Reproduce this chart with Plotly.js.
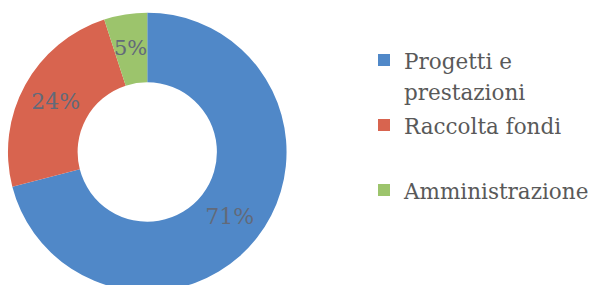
<!DOCTYPE html>
<html><head><meta charset="utf-8">
<script src="https://cdn.plot.ly/plotly-3.0.1.min.js"></script>
<style>html,body{margin:0;padding:0;overflow:hidden;background:#fff;width:595px;height:285px}#c{width:595px;height:300px}</style>
</head><body><div id="c"></div>
<script>
const labelLines = [["Progetti e", "prestazioni"], ["Raccolta fondi", " "], ["Amministrazione", " "]];
const values = [71, 24, 5];
const colors = ["#5088c8", "#d8644f", "#9cc46c"];

const span = s => "<span style='font-size:21.5px'>" + s + "</span>";
const labels = labelLines.map(l => l.map(span).join("<br>"));
const total = values.reduce((a, b) => a + b, 0);
const pct = values.map(v => Math.round(v / total * 100) + "%");

// pie geometry (pixels in a 595x300 layout)
const W = 595, H = 300, cxPx = 148, cyPx = 152, rOut = 140, hole = 0.5;
const domX = [(cxPx - rOut) / W, (cxPx + rOut) / W];
const domY = [(H - cyPx - rOut) / H, (H - cyPx + rOut) / H];

// the thin last slice gets its label at the middle of its ring, computed from the data
const annotations = [];
let cum = 0;
values.forEach((v, i) => {
  const mid = (cum + v / 2) / total * 2 * Math.PI;
  cum += v;
  if (i === values.length - 1) {
    const rMid = rOut * (1 + hole) / 2;
    annotations.push({
      xref: "paper", yref: "paper", showarrow: false,
      xanchor: "center", yanchor: "middle",
      x: (cxPx + rMid * Math.sin(mid)) / W,
      y: (H - cyPx + rMid * Math.cos(mid)) / H,
      text: pct[i], font: {family: "DejaVu Serif", size: 21, color: "#626a7a"}
    });
  }
});

Plotly.newPlot("c", [{
  type: "pie",
  labels: labels,
  values: values,
  hole: hole,
  sort: false,
  direction: "clockwise",
  rotation: 0,
  text: pct,
  textinfo: "text",
  textposition: values.map((v, i) => i === values.length - 1 ? "none" : "inside"),
  insidetextorientation: "horizontal",
  textfont: {family: "DejaVu Serif", size: 22, color: "#626a7a"},
  marker: {colors: colors, line: {width: 0}},
  domain: {x: domX, y: domY},
  hoverinfo: "none"
}], {
  width: W, height: H,
  margin: {l: 0, r: 0, t: 0, b: 0},
  paper_bgcolor: "#fff",
  showlegend: true,
  annotations: annotations,
  legend: {x: 366 / W, y: 1 - 38 / H, xanchor: "left", yanchor: "top", valign: "top",
           font: {family: "DejaVu Serif", size: 23.85, color: "#595959"},
           bgcolor: "rgba(0,0,0,0)", itemclick: false}
}, {staticPlot: true});
</script></body></html>
